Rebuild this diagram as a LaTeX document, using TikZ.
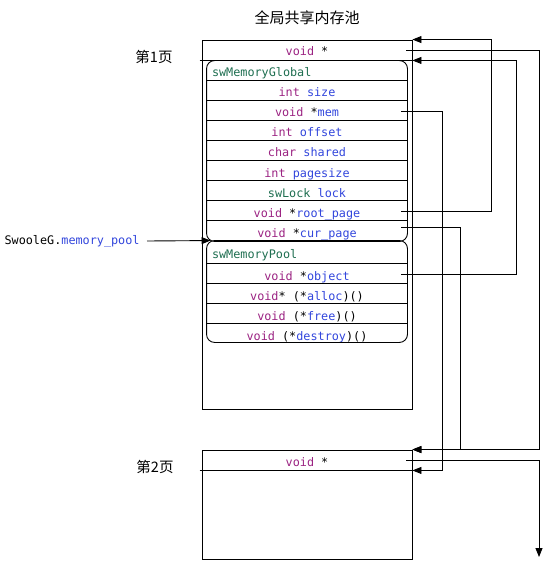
\documentclass[tikz,border=0pt]{standalone}
\usepackage{fontspec}
\setmonofont{DejaVu Sans Mono}
\newfontfamily\cjk{Noto Sans CJK SC}
\usetikzlibrary{arrows.meta}
\definecolor{kwcol}{RGB}{155,35,130}
\definecolor{fldcol}{RGB}{50,70,220}
\definecolor{typcol}{RGB}{30,110,80}
\newcommand{\kw}[1]{\textcolor{kwcol}{#1}}
\newcommand{\fld}[1]{\textcolor{fldcol}{#1}}
\newcommand{\typ}[1]{\textcolor{typcol}{#1}}
\newcommand{\codefont}{\ttfamily\fontsize{11.8}{14}\selectfont}
\tikzset{
    field/.style={minimum width=200pt, minimum height=20pt, inner sep=0pt, text height=12pt, text depth=0pt, font=\codefont},
    headrow/.style={field, text width=190pt, align=left},
    pagebox/.style={draw, minimum width=210pt, inner sep=0pt},
    ptr/.style={-{Triangle[length=9pt,width=7pt]}},
}
\begin{document}
\begin{tikzpicture}[x=1pt, y=-1pt, line width=0.9pt]
                \useasboundingbox (0,0) rectangle (555,572);
                \node[font=\cjk\fontsize{15}{18}\selectfont] (title) at (307, 18) {全局共享内存池};
                \node[font=\cjk\fontsize{14.5}{18}\selectfont] (label1) at (154, 57) {第1页};
                \node[font=\cjk\fontsize{14.5}{18}\selectfont] (label2) at (155, 467) {第2页};
                % page 1
                \node[pagebox, minimum height=369pt] (page1) at (307, 224.5) {};
                \node[field, minimum width=210pt] (next1) at (307, 50) {\kw{void} *};
                \draw ([xshift=-2pt]next1.south west) -- (next1.south east);
                \node[headrow] (globalhead) at (307, 71) {\typ{swMemoryGlobal}};
                \foreach \name/\y/\txt in {size/91/{\kw{int} \fld{size}},
                        mem/111/{\kw{void} *\fld{mem}},
                        offset/131/{\kw{int} \fld{offset}},
                        shared/151/{\kw{char} \fld{shared}},
                        pagesize/171/{\kw{int} \fld{pagesize}},
                        lock/191/{\typ{swLock} \fld{lock}},
                        root/211/{\kw{void} *\fld{root\_page}},
                        cur/231/{\kw{void} *\fld{cur\_page}}}{
                    \node[field] (\name) at (307, \y) {\txt};
                    \draw (\name.north west) -- (\name.north east);
                }
                \draw[rounded corners=8pt] (globalhead.north west) rectangle (cur.south east);
                \node[headrow, minimum height=23pt] (poolhead) at (307, 252.5) {\typ{swMemoryPool}};
                \foreach \name/\y/\txt in {object/274/{\kw{void} *\fld{object}},
                        alloc/294/{\kw{void}* (*\fld{alloc})()},
                        free/314/{\kw{void} (*\fld{free})()},
                        destroy/334/{\kw{void} (*\fld{destroy})()}}{
                    \node[field] (\name) at (307, \y) {\txt};
                    \draw (\name.north west) -- (\name.north east);
                }
                \draw[rounded corners=8pt] (poolhead.north west) rectangle ([yshift=2pt]destroy.south east);
                % page 2
                \node[pagebox, minimum height=109pt] (page2) at (307, 504.5) {};
                \node[field, minimum width=210pt] (next2) at (307, 460) {\kw{void} *};
                \draw ([xshift=-2pt]next2.south west) -- (next2.south east);
                \coordinate (page3) at (539, 557);
                % pointers
                \node[anchor=east, font=\codefont, inner sep=0pt] (swooleg) at (140, 241) {SwooleG.\fld{memory\_pool}};
                \draw[ptr] ([xshift=7pt]swooleg.east) -- ([xshift=4pt]poolhead.north west);
                \draw[ptr] ([xshift=-6pt]root.east) -| ([xshift=79pt]page1.north east) -- (page1.north east);
                \draw[ptr] ([xshift=-6pt]object.east) -| ([xshift=104pt]next1.south east) -- (next1.south east);
                \draw[ptr] ([xshift=-6pt]next1.east) -| ([xshift=127pt]page2.north east) -- (page2.north east);
                \draw[ptr] ([xshift=-6pt, yshift=4pt]cur.east) -| ([xshift=48pt]page2.north east) -- (page2.north east);
                \draw[ptr] ([xshift=-6pt]mem.east) -| ([xshift=30pt]next2.south east) -- (next2.south east);
                \draw[ptr] ([xshift=-6pt]next2.east) -| (page3);
            \end{tikzpicture}
\end{document}
